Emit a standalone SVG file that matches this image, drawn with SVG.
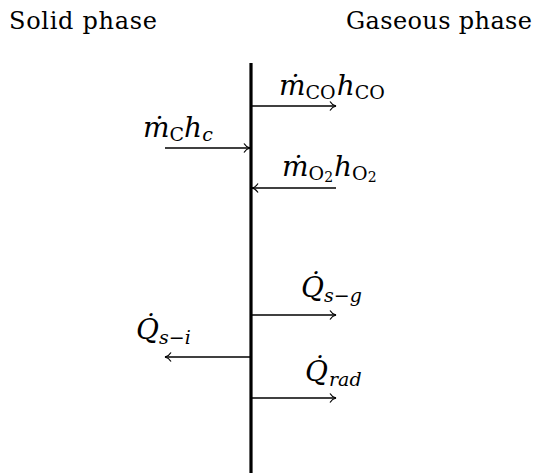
<svg xmlns="http://www.w3.org/2000/svg" width="533" height="473" viewBox="0 0 533 473">
<defs>
<style>
text{font-family:'DejaVu Serif','Liberation Serif',serif;fill:#000}
.t{font-size:24px}
.m{font-style:italic;font-size:28px}
.r{font-style:normal}
.s{font-size:19px}
.c{stroke:#000;stroke-width:1.3;fill:none}
</style>
<marker id="ah" markerWidth="12" markerHeight="12" refX="9" refY="6" orient="auto" markerUnits="userSpaceOnUse">
<path d="M3,1.5 Q5,5 9,6 Q5,7 3,10.5" fill="none" stroke="#000" stroke-width="1.2"/>
</marker>
</defs>
<g id="labels">
<text class="t" x="9" y="29" textLength="148" lengthAdjust="spacing">Solid phase</text>
<text class="t" x="346" y="29" textLength="186" lengthAdjust="spacing">Gaseous phase</text>
</g>
<g id="interface">
<line x1="251" y1="63" x2="251" y2="473" stroke="#000" stroke-width="3.2"/>
</g>
<g id="connectors">
<line class="c" x1="252" y1="106" x2="336" y2="106" marker-end="url(#ah)"/>
<line class="c" x1="165" y1="148" x2="250" y2="148" marker-end="url(#ah)"/>
<line class="c" x1="336" y1="188" x2="252" y2="188" marker-end="url(#ah)"/>
<line class="c" x1="252" y1="315" x2="336" y2="315" marker-end="url(#ah)"/>
<line class="c" x1="250" y1="357" x2="165" y2="357" marker-end="url(#ah)"/>
<line class="c" x1="252" y1="398" x2="336" y2="398" marker-end="url(#ah)"/>
</g>
<g id="n_mco"><text class="m" x="279" y="95">ṁ<tspan class="r s" dy="4">CO</tspan><tspan dx="1" dy="-4">h</tspan><tspan class="r s" dy="4">CO</tspan></text></g>
<g id="n_mc"><text class="m" x="143" y="137">ṁ<tspan class="r s" dy="4">C</tspan><tspan dy="-4">h</tspan><tspan class="s" dy="4">c</tspan></text></g>
<g id="n_mo2"><text class="m" x="282" y="176">ṁ<tspan class="r s" dy="4">O</tspan><tspan class="r" font-size="14" dy="2">2</tspan><tspan dx="1" dy="-6">h</tspan><tspan class="r s" dy="4">O</tspan><tspan class="r" font-size="14" dy="2">2</tspan></text></g>
<g id="n_qsg"><text class="m" x="301" y="297">Q̇<tspan class="s" dy="5">s−g</tspan></text></g>
<g id="n_qsi"><text class="m" x="136" y="339">Q̇<tspan class="s" dy="5">s−i</tspan></text></g>
<g id="n_qrad"><text class="m" x="305" y="381">Q̇<tspan class="s" dx="1" dy="5">rad</tspan></text></g>
</svg>
